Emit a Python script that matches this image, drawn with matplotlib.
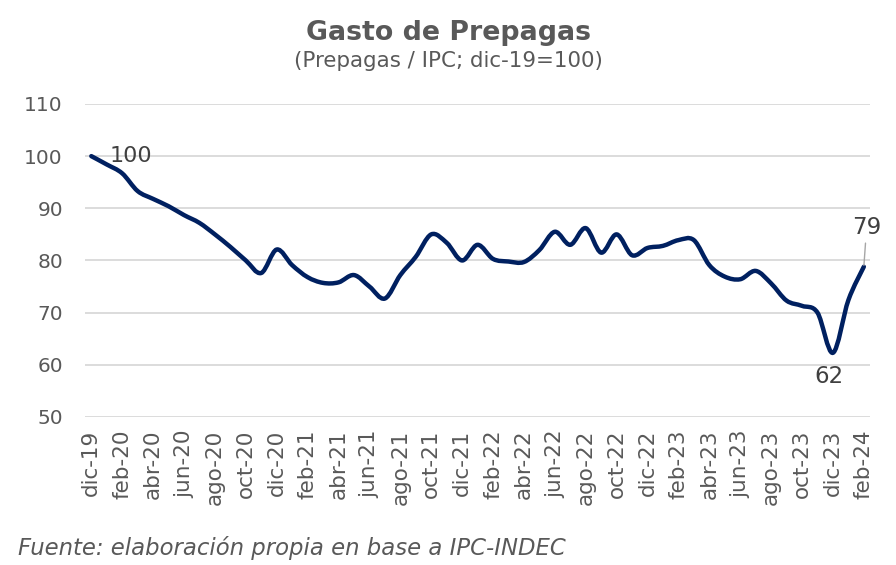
import matplotlib
matplotlib.use("Agg")
import matplotlib.pyplot as plt
from matplotlib.path import Path
from matplotlib.patches import PathPatch

# Prepagas / IPC, dic-19 = 100 (mensual, dic-19 a feb-24)
MONTHS = ["ene", "feb", "mar", "abr", "may", "jun", "jul", "ago", "sep", "oct", "nov", "dic"]
periods = ["dic-19"] + [f"{m}-{y}" for y in (20, 21, 22, 23) for m in MONTHS] + ["ene-24", "feb-24"]

gasto = [
    100.0, 98.4, 96.7, 93.3, 91.8, 90.4, 88.7, 87.2, 85.0, 82.6, 80.0, 77.6,
    82.1, 79.1, 76.8, 75.7, 75.8, 77.2, 75.0, 72.7, 77.2, 80.7, 85.0, 83.4,
    80.0, 83.0, 80.3, 79.8, 79.7, 82.0, 85.5, 83.0, 86.2, 81.5, 85.0, 81.0,
    82.4, 82.8, 83.9, 83.9, 79.1, 76.9, 76.4, 78.0, 75.6, 72.3, 71.3, 70.0,
    62.3, 72.4, 78.8,
]

x = list(range(len(gasto)))
tick_pos = x[::2]
tick_labels = periods[::2]

GRAY = "#595959"
NAVY = "#002060"
plt.rcParams["font.family"] = ["DejaVu Sans"]


def smooth_path(xs, ys):
    # linea suavizada tipo Excel (bezier cubica por los puntos)
    pts = list(zip(xs, ys))
    verts = [pts[0]]
    codes = [Path.MOVETO]
    n = len(pts)
    for i in range(n - 1):
        p0 = pts[i - 1] if i > 0 else pts[i]
        p1 = pts[i]
        p2 = pts[i + 1]
        p3 = pts[i + 2] if i + 2 < n else pts[i + 1]
        c1 = (p1[0] + (p2[0] - p0[0]) / 6, p1[1] + (p2[1] - p0[1]) / 6)
        c2 = (p2[0] - (p3[0] - p1[0]) / 6, p2[1] - (p3[1] - p1[1]) / 6)
        verts += [c1, c2, p2]
        codes += [Path.CURVE4] * 3
    return Path(verts, codes)


fig = plt.figure(figsize=(8.96, 5.65), dpi=100)
ax = fig.add_axes([0.095, 0.262, 0.876, 0.554])

ax.add_patch(PathPatch(smooth_path(x, gasto), facecolor="none", edgecolor=NAVY, linewidth=3.2,
                       joinstyle="round", capstyle="round", zorder=3))

ax.set_ylim(50, 110)
ax.set_yticks(range(50, 111, 10))
ax.set_xlim(-0.4, len(gasto) - 0.6)
ax.set_xticks(tick_pos)
ax.set_xticklabels(tick_labels, rotation=90)
ax.grid(axis="y", color="#D9D9D9", linewidth=1.3)
ax.set_axisbelow(True)
for s in ax.spines.values():
    s.set_visible(False)
ax.tick_params(axis="both", length=0, colors=GRAY)
ax.tick_params(axis="y", pad=16, labelsize=14.5)
ax.tick_params(axis="x", pad=9, labelsize=15.5)

# etiquetas de datos
ax.annotate("100", (x[0], gasto[0]), xytext=(13, 0), textcoords="offset points",
            ha="left", va="center", fontsize=16, color="#404040")
i_min = gasto.index(min(gasto))
ax.annotate(f"{gasto[i_min]:.0f}", (x[i_min], gasto[i_min]), xytext=(-3, -9), textcoords="offset points",
            ha="center", va="top", fontsize=16.5, color="#404040")
ax.annotate(f"{gasto[-1]:.0f}", (x[-1], gasto[-1]), xytext=(2, 20), textcoords="offset points",
            ha="center", va="bottom", fontsize=16.5, color="#404040",
            arrowprops=dict(arrowstyle="-", color="#A6A6A6", linewidth=1, shrinkA=1, shrinkB=1))

fig.text(0.5, 0.942, "Gasto de Prepagas", ha="center", va="center", fontsize=19.3, fontweight="bold", color=GRAY)
fig.text(0.5, 0.892, "(Prepagas / IPC; dic-19=100)", ha="center", va="center", fontsize=15.4, color=GRAY)
fig.text(0.02, 0.03, "Fuente: elaboración propia en base a IPC-INDEC", ha="left", va="center",
         fontsize=16.4, style="italic", color=GRAY)

fig.savefig("out.png", dpi=100)
